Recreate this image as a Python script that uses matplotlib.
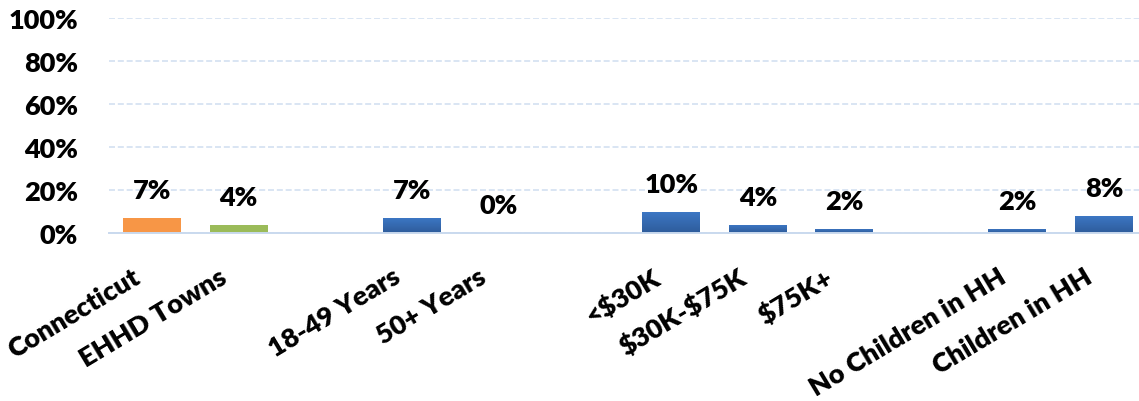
import numpy as np
import matplotlib
matplotlib.use("Agg")
import matplotlib.pyplot as plt
from matplotlib.transforms import ScaledTranslation
from matplotlib.colors import LinearSegmentedColormap

# ---- data ----
categories = ["Connecticut", "EHHD Towns", "", "18-49 Years", "50+ Years", "",
              "<$30K", "$30K-$75K", "$75K+", "", "No Children in HH", "Children in HH"]
values = [7, 4, np.nan, 7, 0, np.nan, 10, 4, 2, np.nan, 2, 8]
series_group = ["state", "region", "", "sub", "sub", "", "sub", "sub", "sub", "", "sub", "sub"]
y_ticks = [0, 20, 40, 60, 80, 100]

group_colors = {"state": "#F79646", "region": "#9BBB59", "sub": "#3A6EB8", "": "none"}
blue_grad = LinearSegmentedColormap.from_list("bg", ["#2E5C9B", "#3D78C6"])

plt.rcParams["font.family"] = ["Lato", "DejaVu Sans"]
plt.rcParams["text.parse_math"] = False
WEIGHT = "heavy"

W, H = 1139, 402
fig = plt.figure(figsize=(W / 100, H / 100), dpi=100)
left = 108.7 / W
right_px = 1147.3
bottom = (H - 234.3) / H
top = (H - 19.0) / H
ax = fig.add_axes([left, bottom, (right_px - 108.7) / W, top - bottom])

x = np.arange(len(categories))
vals = np.array(values, dtype=float)
colors = [group_colors[g] for g in series_group]
mask = ~np.isnan(vals)
bars = ax.bar(x[mask], vals[mask], width=0.67, color=[c for c, m in zip(colors, mask) if m],
              zorder=3)

# gradient fill for the blue bars
grad = np.linspace(0, 1, 64).reshape(-1, 1)
for b, g in zip(bars, [g for g, m in zip(series_group, mask) if m]):
    if g == "sub" and b.get_height() > 0:
        x0, w, h = b.get_x(), b.get_width(), b.get_height()
        im = ax.imshow(grad, cmap=blue_grad, origin="lower", aspect="auto",
                       extent=[x0, x0 + w, 0, h], zorder=3.5)
        im.set_clip_path(b)

for xi, v in zip(x[mask], vals[mask]):
    ax.annotate(f"{v:.0f}%", (xi, v), xytext=(0, 11.5), textcoords="offset points",
                ha="center", va="bottom", fontsize=19.5, fontweight=WEIGHT, color="#000000")

ax.set_xlim(-0.5, len(categories) - 0.5)
ax.set_ylim(0, 100)
ax.set_aspect("auto")
ax.set_yticks(y_ticks)
ax.set_yticklabels([f"{t}%" for t in y_ticks], fontsize=19.5, fontweight=WEIGHT)
ax.tick_params(axis="y", length=0, pad=22)
ax.yaxis.grid(True, color="#D3E0F1", linestyle=(0, (3.6, 1.7)), linewidth=1.2, zorder=0)
ax.set_axisbelow(True)

ax.set_xticks(x)
ax.set_xticklabels(categories, fontsize=19.5, fontweight=WEIGHT, rotation=31,
                   ha="right", va="top", rotation_mode="anchor")
ax.tick_params(axis="x", length=0, pad=22)
offset = ScaledTranslation(-20 / 100, 0, fig.dpi_scale_trans)
for lab in ax.get_xticklabels():
    lab.set_transform(lab.get_transform() + offset)

for s in ["left", "right", "top"]:
    ax.spines[s].set_visible(False)
ax.spines["bottom"].set_color("#C9D9EE")
ax.spines["bottom"].set_linewidth(1.4)
ax.spines["bottom"].set_zorder(4)

fig.savefig("out.png", dpi=100)
